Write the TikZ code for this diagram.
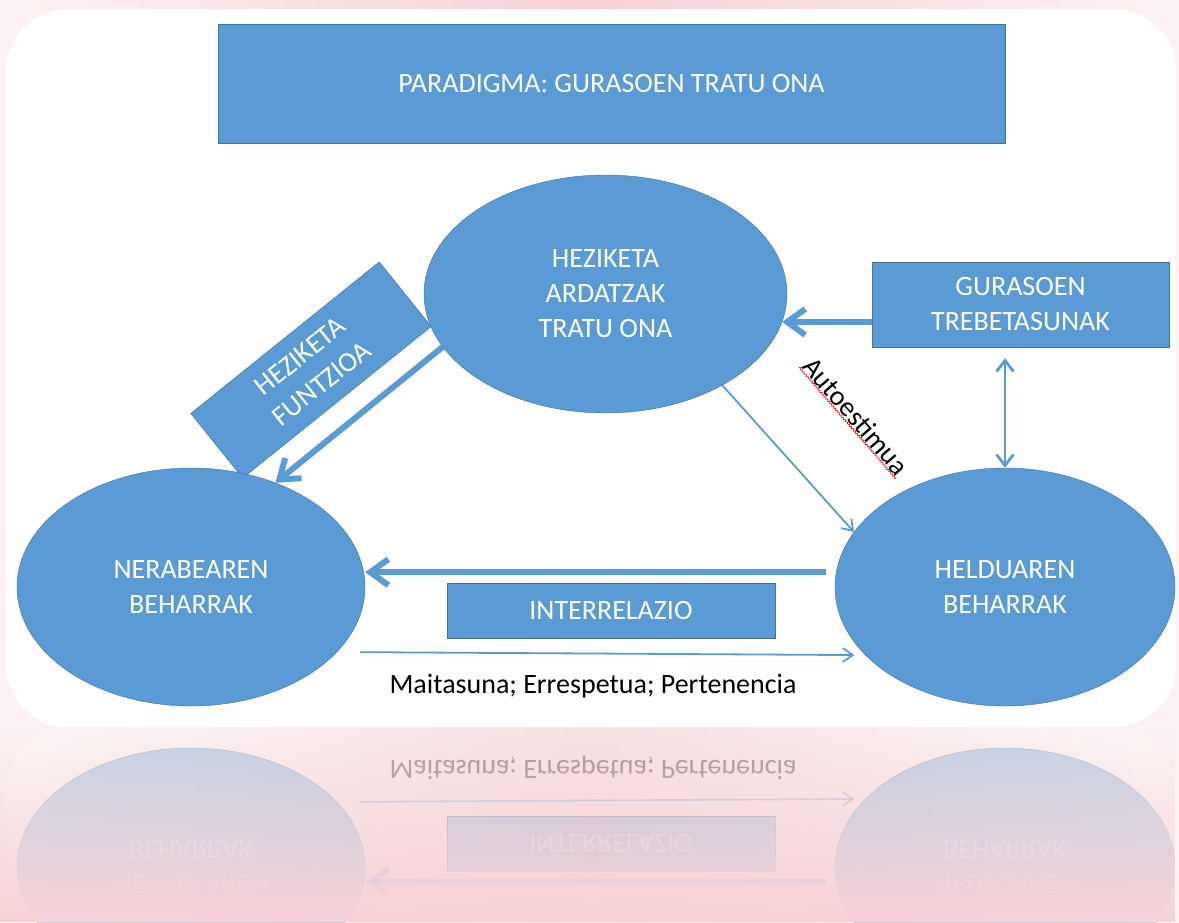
\documentclass[tikz,border=0pt]{standalone}
\usepackage{fontspec}
\setmainfont{Carlito}
\usetikzlibrary{arrows.meta,positioning,shapes.geometric,decorations.pathmorphing,fadings}

\definecolor{ofblue}{RGB}{91,155,213}
\definecolor{ofline}{RGB}{65,113,156}
\definecolor{bgpink}{RGB}{246,210,214}
\definecolor{bgpale}{RGB}{252,242,243}

\newcommand{\boxfont}{\fontsize{28}{35}\selectfont}

% lower row: the two needs, the link between them and its labels
\newcommand{\needsrow}[1]{%
	\node[need, minimum width=348pt] (ner#1) at (191,587) {NERABEAREN\\BEHARRAK};
	\node[need, minimum width=340pt] (hel#1) at (1005,587) {HELDUAREN\\BEHARRAK};
	\node[tag, minimum width=328pt, minimum height=55pt] (inter#1) at (611,610.5) {INTERRELAZIO};
	\path[heavy] ([xshift=-10pt]hel#1.175) edge (hel#1.175 -| ner#1.east);
	\path[light, shorten <=23pt, shorten >=11pt] (ner#1.-24) edge (hel#1.206);
	\node[font=\boxfont] (maitas#1) at (593,686) {Maitasuna; Errespetua; Pertenencia};
}

\begin{document}
\begin{tikzpicture}[
	x = 1pt, y = -1pt, % picture drawn in pixel units, y downwards
	tag/.style={rectangle, draw=ofline, fill=ofblue, text=white, align=center, inner sep=2pt, font=\boxfont},
	need/.style={ellipse, draw=ofline, fill=ofblue, text=white, align=center, inner sep=0pt, minimum height=238pt, font=\boxfont},
	heavy/.style={-{Straight Barb[length=18pt, width=26pt]}, color=ofblue, line width=6pt},
	light/.style={-{Straight Barb[length=10pt, width=14pt]}, color=ofblue, line width=1.8pt},
	mid/.style={{Straight Barb[length=11pt, width=17pt]}-{Straight Barb[length=11pt, width=17pt]}, color=ofblue, line width=2.8pt},
	]
	\useasboundingbox (0,0) rectangle (1179,922);

	% Background
	\shade[left color=bgpale, right color=bgpale, middle color=bgpink] (0,0) rectangle (1179,922);
	\fill[white, rounded corners=62pt] (6,9) rectangle (1176,727);

	% Top items
	\node[tag, minimum width=787pt, minimum height=119pt] (para) at (611.5,83.5) {PARADIGMA: GURASOEN TRATU ONA};
	\node[tag, minimum width=242pt, minimum height=83pt, rotate=38.8] (funtz) at (311,370) {HEZIKETA\\FUNTZIOA};
	\node[need, minimum width=363pt] (hez) at (605.5,294) {HEZIKETA\\ARDATZAK\\TRATU ONA};
	\node[tag, minimum width=297pt, minimum height=85pt] (gur) at (1020.5,304.5) {GURASOEN\\TREBETASUNAK};

	% Lower row
	\needsrow{}

	% Paths connecting nodes
	\path[heavy] (hez.198) edge (ner.51);
	\path[light] (hez.322) edge (hel.160);
	\path[heavy] (gur.west |- hez.-9) edge (hez.-9);
	\path[mid, shorten <=11pt] (hel.north |- gur.south) edge (hel.north);

	% Edge label with its spelling mark
	\node[rotate=-49, font=\boxfont, inner sep=1pt] (autoe) at (856,416) {Autoestimua};
	\draw[red, line width=0.7pt, decorate, decoration={snake, amplitude=0.8pt, segment length=3pt}] (autoe.south west) -- (autoe.south east);

	% Reflection of the lower row
	\begin{scope}
		\clip (0,727) rectangle (1179,922);
		\begin{scope}[shift={(0,1454)}, yscale=-1, transform shape, opacity=0.35]
			\fill[white, rounded corners=62pt] (6,9) rectangle (1176,727);
			\needsrow{r}
		\end{scope}
		\fill[bgpink, path fading=north] (0,727) rectangle (1179,922);
	\end{scope}

\end{tikzpicture}
\end{document}
